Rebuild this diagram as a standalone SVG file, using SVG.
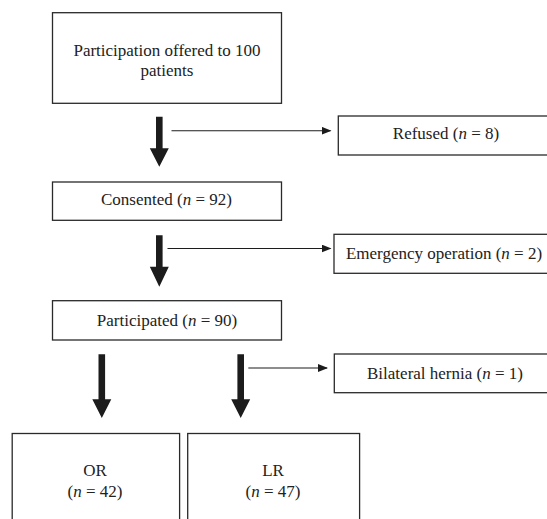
<svg xmlns="http://www.w3.org/2000/svg" width="547" height="519" viewBox="0 0 547 519">
<defs>
<style>
.box{fill:#fff;stroke:#2a2a2a;stroke-width:1.3}
.t{font-family:"Liberation Serif","Times New Roman",serif;font-size:17px;fill:#222;text-anchor:middle}
.thick{fill:#1c1c1c}
.thin{stroke:#1c1c1c;stroke-width:1.1;fill:none}
</style>
<marker id="ah" markerWidth="10" markerHeight="8" refX="9" refY="4" orient="auto" markerUnits="userSpaceOnUse">
<path d="M0,0 L10,4 L0,8 Z" fill="#1c1c1c"/>
</marker>
</defs>
<rect width="547" height="519" fill="#fff"/>
<g id="connectors">
<path class="thick" d="M156,116.7 H162.6 V148.3 H168.8 L159.3,166.7 L149.8,148.3 H156 Z"/>
<path class="thick" d="M156,235.3 H162.6 V266.7 H168.8 L159.3,286.7 L149.8,266.7 H156 Z"/>
<path class="thick" d="M98.5,354.3 H105.1 V399.3 H111.3 L101.8,418 L92.3,399.3 H98.5 Z"/>
<path class="thick" d="M237.4,354.3 H244 V399.3 H250.2 L240.7,418 L231.2,399.3 H237.4 Z"/>
<line class="thin" x1="171.5" y1="130.7" x2="330.5" y2="130.7" marker-end="url(#ah)"/>
<line class="thin" x1="167.5" y1="248.5" x2="330.5" y2="248.5" marker-end="url(#ah)"/>
<line class="thin" x1="248.3" y1="368" x2="327" y2="368" marker-end="url(#ah)"/>
</g>
<g id="start">
<rect class="box" x="52.5" y="12.7" width="229" height="90.6"/>
<text class="t" x="167" y="55.5">Participation offered to 100</text>
<text class="t" x="167" y="76">patients</text>
</g>
<g id="refused">
<rect class="box" x="338.3" y="116" width="220" height="39"/>
<text class="t" x="446" y="138.5">Refused (<tspan font-style="italic">n</tspan> = 8)</text>
</g>
<g id="consented">
<rect class="box" x="52.5" y="182" width="229" height="38.3"/>
<text class="t" x="166.5" y="205">Consented (<tspan font-style="italic">n</tspan> = 92)</text>
</g>
<g id="emergency">
<rect class="box" x="334" y="234.3" width="225" height="39"/>
<text class="t" x="444" y="258.5">Emergency operation (<tspan font-style="italic">n</tspan> = 2)</text>
</g>
<g id="participated">
<rect class="box" x="52.5" y="300.7" width="229" height="39.3"/>
<text class="t" x="167" y="326">Participated (<tspan font-style="italic">n</tspan> = 90)</text>
</g>
<g id="bilateral">
<rect class="box" x="334.3" y="354" width="225" height="38.7"/>
<text class="t" x="445" y="379">Bilateral hernia (<tspan font-style="italic">n</tspan> = 1)</text>
</g>
<g id="or">
<rect class="box" x="12.2" y="433.5" width="167.4" height="100"/>
<text class="t" x="95" y="476">OR</text>
<text class="t" x="95" y="497">(<tspan font-style="italic">n</tspan> = 42)</text>
</g>
<g id="lr">
<rect class="box" x="187.7" y="433.5" width="171.9" height="100"/>
<text class="t" x="273" y="476">LR</text>
<text class="t" x="273" y="497">(<tspan font-style="italic">n</tspan> = 47)</text>
</g>
</svg>
